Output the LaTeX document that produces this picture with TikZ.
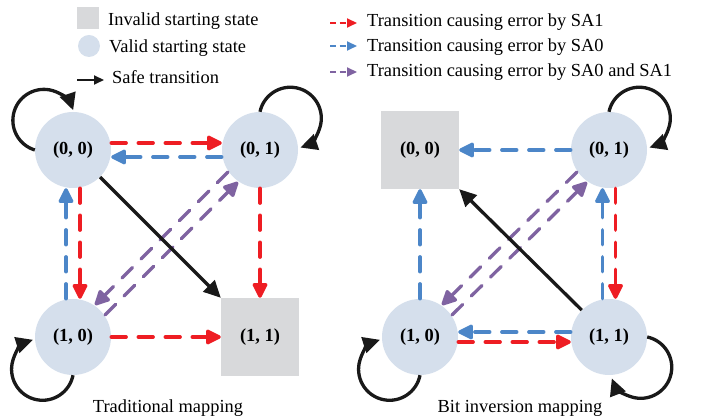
\documentclass[tikz,border=0pt]{standalone}
\usepackage{fontspec}
\setmainfont{Liberation Serif}
\usetikzlibrary{arrows.meta}
\definecolor{cred}{HTML}{EE1D23}
\definecolor{cblue}{HTML}{4C86C8}
\definecolor{cpurp}{HTML}{7F63A1}
\definecolor{nfill}{HTML}{D5DFEC}
\definecolor{gfill}{HTML}{D8D9DB}
\begin{document}
\begin{tikzpicture}[x=1pt,y=1pt,
 txt/.style={font=\fontsize{18.4}{20}\selectfont, inner sep=0pt},
 st/.style={circle, fill=nfill, minimum size=76pt, inner sep=0pt, font=\bfseries\fontsize{18.4}{20}\selectfont},
 inv/.style={rectangle, fill=gfill, minimum size=78pt, inner sep=0pt, font=\bfseries\fontsize{18.4}{20}\selectfont},
 edge/.style={line width=3.3pt, line cap=round, dash pattern=on 15pt off 12pt, -{Triangle[length=17pt,width=16pt,round=false]}},
 sa1/.style={edge, color=cred},
 sa0/.style={edge, color=cblue},
 sab/.style={edge, color=cpurp},
 safe/.style={line width=3.3pt, color=black!90, -{Triangle[length=17pt,width=16pt]}},
 lg/.style={line width=2pt, dash pattern=on 6pt off 3.5pt, -{Triangle[length=10pt,width=9pt]}},
]
\useasboundingbox (0,0) rectangle (705,417);

% legend
\node[rectangle, fill=gfill, minimum size=22pt, inner sep=0pt] (lsq) at (88,399) {};
\node[circle, fill=nfill, minimum size=22pt, inner sep=0pt] (lci) at (89,371) {};
\coordinate (lb1) at (77,337); \coordinate (lb2) at (104,337);
\draw[line width=2pt, color=black!90, -{Triangle[length=10pt,width=9pt]}] (lb1) -- (lb2);
\node[txt, anchor=base west] (t1) at (108,391) {Invalid starting state};
\node[txt, anchor=base west] (t2) at (109,364) {Valid starting state};
\node[txt, anchor=base west] (t3) at (112,333) {Safe transition};

\coordinate (lr1) at (330,394); \coordinate (lr2) at (357,394);
\coordinate (lu1) at (330,371); \coordinate (lu2) at (357,371);
\coordinate (lp1) at (330,345); \coordinate (lp2) at (357,345);
\draw[lg, color=cred] (lr1) -- (lr2);
\draw[lg, color=cblue] (lu1) -- (lu2);
\draw[lg, color=cpurp] (lp1) -- (lp2);
\node[txt, anchor=base west] (t4) at (367,390) {Transition causing error by SA1};
\node[txt, anchor=base west] (t5) at (367,365) {Transition causing error by SA0};
\node[txt, anchor=base west] (t6) at (367,340) {Transition causing error by SA0 and SA1};

% left diagram
\node[st] (A00) at (73,267) {(0, 0)};
\node[st] (A01) at (260,267) {(0, 1)};
\node[st] (A10) at (73,80) {(1, 0)};
\node[inv] (A11) at (260,80) {(1, 1)};

\draw[sa1] ([yshift=7pt]A00.east) -- ([yshift=7pt]A01.west);
\draw[sa0] ([yshift=-7pt]A01.west) -- ([yshift=-7pt]A00.east);
\draw[sa0] ([xshift=-7pt]A10.north) -- ([xshift=-7pt]A00.south);
\draw[sa1] ([xshift=7pt]A00.south) -- ([xshift=7pt]A10.north);
\draw[sa1] (A01.south) -- (A11.north);
\draw[sa1] (A10.east) -- (A11.west);
\draw[sab] ([shift={(-5pt,5pt)}]A01.225) -- ([shift={(-5pt,5pt)}]A10.45);
\draw[sab] ([shift={(5pt,-5pt)}]A10.45) -- ([shift={(5pt,-5pt)}]A01.225);
\draw[safe] (A00) -- (A11.north west);
\draw[safe] (A00.west) arc[start angle=253, end angle=19, radius=31];
\draw[safe] (A01.north) arc[start angle=168, end angle=-71, radius=31];
\draw[safe] (A10.south) arc[start angle=-11, end angle=-252, radius=31];
\node[txt, anchor=base] (cap1) at (168,4) {Traditional mapping};

% right diagram
\node[inv] (B00) at (420,267) {(0, 0)};
\node[st] (B01) at (609,267) {(0, 1)};
\node[st] (B10) at (420,80) {(1, 0)};
\node[st] (B11) at (609,80) {(1, 1)};

\draw[sa0] (B01.west) -- (B00.east);
\draw[sa0] (B10.north) -- (B00.south);
\draw[sa0] ([xshift=-6.5pt]B11.north) -- ([xshift=-6.5pt]B01.south);
\draw[sa1] ([xshift=6.5pt]B01.south) -- ([xshift=6.5pt]B11.north);
\draw[sa0] ([yshift=5pt]B11.west) -- ([yshift=5pt]B10.east);
\draw[sa1] ([yshift=-5pt]B10.east) -- ([yshift=-5pt]B11.west);
\draw[sab] ([shift={(-5pt,5pt)}]B01.225) -- ([shift={(-5pt,5pt)}]B10.45);
\draw[sab] ([shift={(5pt,-5pt)}]B10.45) -- ([shift={(5pt,-5pt)}]B01.225);
\draw[safe] (B11) -- (B00.south east);
\draw[safe] (B01.north) arc[start angle=168, end angle=-71, radius=31];
\draw[safe] (B10.south) arc[start angle=-11, end angle=-252, radius=31];
\draw[safe] (B11.east) arc[start angle=78, end angle=-159, radius=31];
\node[txt, anchor=base] (cap2) at (520,4) {Bit inversion mapping};
\end{tikzpicture}
\end{document}
